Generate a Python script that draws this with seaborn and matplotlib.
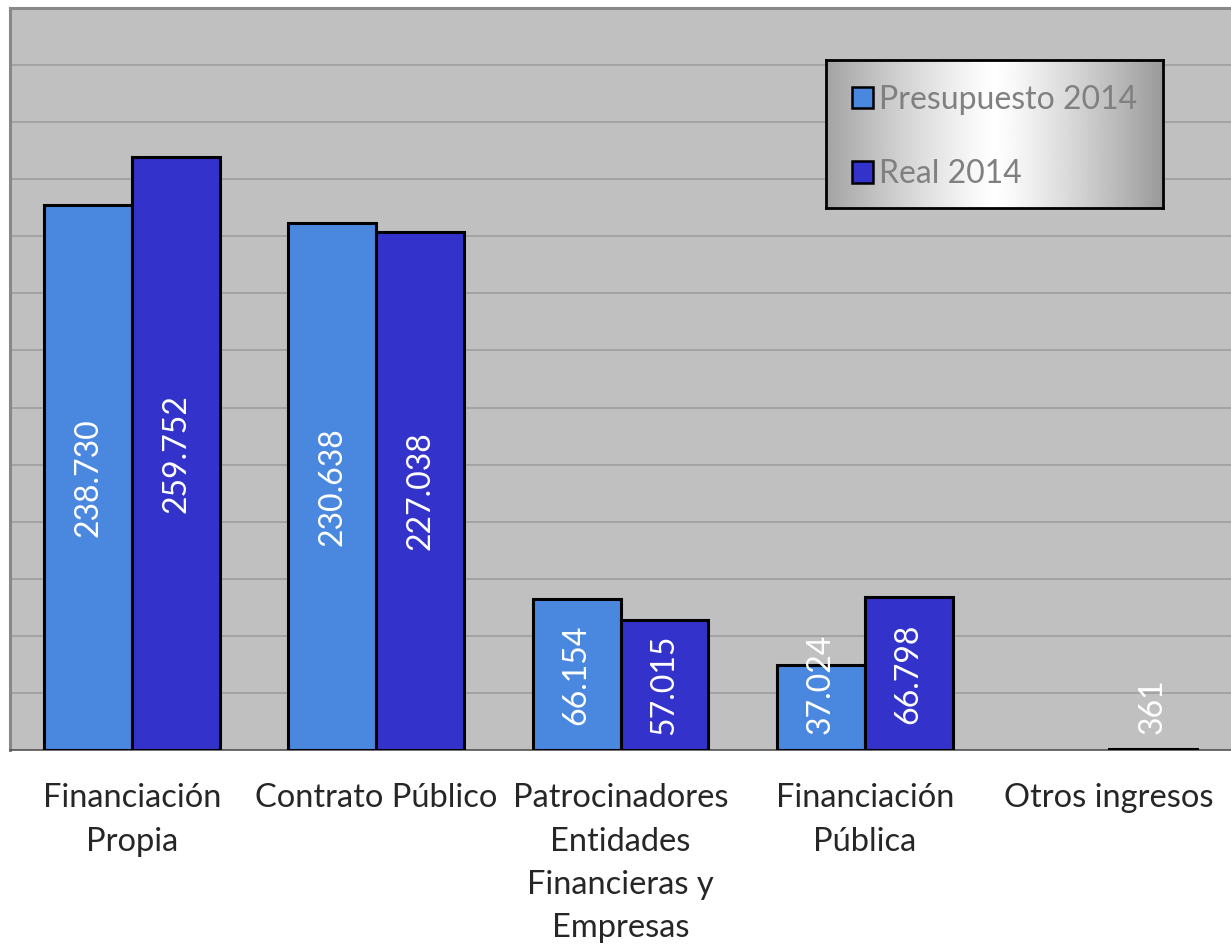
import numpy as np
import pandas as pd
import seaborn as sns
import matplotlib.pyplot as plt
from matplotlib.patches import Patch

categories = ["Financiación\nPropia", "Contrato Público",
              "Patrocinadores\nEntidades\nFinancieras y\nEmpresas",
              "Financiación\nPública", "Otros ingresos"]
series = ["Presupuesto 2014", "Real 2014"]
presupuesto = [238730, 230638, 66154, 37024, 0]
real = [259752, 227038, 57015, 66798, 361]
colors = ["#4a88e0", "#3333cc"]

df = pd.DataFrame({
    "categoria": categories * 2,
    "serie": [series[0]] * 5 + [series[1]] * 5,
    "valor": presupuesto + real,
})

sns.set_style("white")
plt.rcParams["font.family"] = ["Lato", "DejaVu Sans"]

fig = plt.figure(figsize=(12.31, 9.48), dpi=100)
ax = fig.add_axes([10 / 1231, 1 - 750 / 948, 1 - 10 / 1231, 742 / 948])
ax.set_facecolor("#c0c0c0")

sns.barplot(data=df, x="categoria", y="valor", hue="serie", order=categories,
            hue_order=series, palette=dict(zip(series, colors)), width=0.72,
            edgecolor="black", linewidth=2.2, saturation=1, ax=ax,
            legend=False, zorder=3)

ax.set_ylim(0, 325000)
ax.set_xlim(-0.5, 4.5)
ax.set_yticks(np.arange(0, 325001, 25000))
ax.set_yticklabels([])
ax.tick_params(axis="y", length=0)
ax.yaxis.grid(True, color="#a0a0a0", linewidth=1.3, zorder=0)
ax.set_axisbelow(True)
ax.set_xlabel("")
ax.set_ylabel("")

ax.set_xticks(np.arange(-0.5, 4.6, 1), minor=True)
ax.tick_params(axis="x", which="minor", length=8, width=1, color="#555555",
               direction="out")
ax.tick_params(axis="x", which="major", length=0, pad=24, labelsize=23.5)
for lbl in ax.get_xticklabels():
    lbl.set_linespacing(1.55)

for side in ["left", "top"]:
    ax.spines[side].set_color("#888888")
    ax.spines[side].set_linewidth(2.2)
ax.spines["bottom"].set_color("#555555")
ax.spines["bottom"].set_linewidth(1.2)
ax.spines["right"].set_visible(False)

# etiquetas de valores
for cont in ax.containers:
    for bar in cont:
        h = bar.get_height()
        x = bar.get_x() + bar.get_width() / 2
        if h == 0:
            bar.set_linewidth(0)
            continue
        txt = f"{h:,.0f}".replace(",", ".")
        if h < 50000:
            ax.text(x, 7000, txt, rotation=90, ha="center", va="bottom",
                    color="white", fontsize=23, zorder=5)
        else:
            ax.text(x, h / 2, txt, rotation=90, ha="center", va="center",
                    color="white", fontsize=23, zorder=5)

# caja de leyenda con degradado
lax = fig.add_axes([826 / 1231, 1 - 208 / 948, 337 / 1231, 148 / 948])
xs = np.linspace(-1, 1, 300)
grad = 1 - 0.36 * np.abs(xs) ** 1.2
grad[xs > 0] = 1 - 0.4 * np.abs(xs[xs > 0]) ** 1.2
lax.imshow(np.tile(grad, (10, 1)), cmap="gray", vmin=0, vmax=1,
           aspect="auto", extent=[0, 1, 0, 1])
lax.set_xticks([])
lax.set_yticks([])
for s in lax.spines.values():
    s.set_color("black")
    s.set_linewidth(2)

handles = [Patch(facecolor=c, edgecolor="black", linewidth=1.8) for c in colors]
leg = fig.legend(handles, series, loc="center left",
                 bbox_to_anchor=(836 / 1231, 1 - 137 / 948), frameon=False,
                 fontsize=23, handlelength=0.65, handleheight=0.65,
                 handletextpad=0.2, labelspacing=1.4, borderpad=0)
for t in leg.get_texts():
    t.set_color("#808080")

fig.savefig("out.png", dpi=100)
plt.close(fig)
